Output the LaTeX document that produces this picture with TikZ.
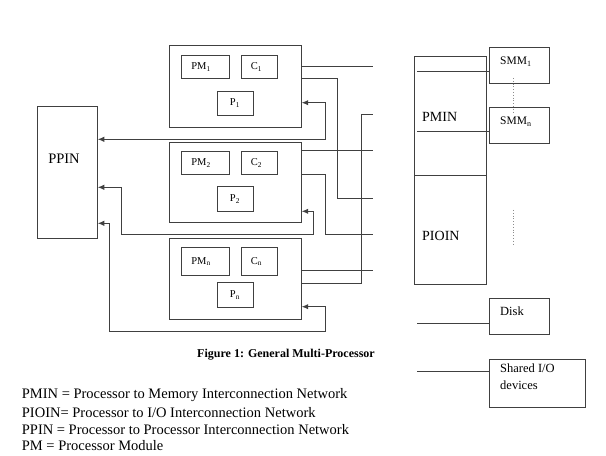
\documentclass[tikz,border=0pt]{standalone}
\usepackage{fontspec}
\setmainfont{Liberation Serif}
\usetikzlibrary{arrows.meta}
\begin{document}
\begin{tikzpicture}[x=1bp,y=-1bp,
  ln/.style={draw=black!75,line width=1bp},
  box/.style={ln,fill=none},
  arr/.style={ln,{Latex[length=6.5bp,width=5.5bp]}-{Latex[length=6.5bp,width=5.5bp]}},
  lbl/.style={inner sep=0pt,font=\fontsize{10.5bp}{12bp}\selectfont},
  big/.style={inner sep=0pt,font=\fontsize{14.5bp}{17bp}\selectfont},
  dots/.style={draw=black!45,line width=0.8bp,dotted}]
\useasboundingbox (0,0) rectangle (606,456);

% processor modules
\foreach \n/\t/\b/\pt/\pb/\qt/\qb/\s in {1/46/127.3/55/79/91/115.3/1, 2/142.7/222.7/151/175/186.7/211.3/2, n/238.3/319.3/247.3/275.7/282.7/307.7/n}{
  \path[box] (169,\t) rectangle (301.7,\b);
  \node[box,minimum width=48.3bp,minimum height={\pb-\pt},inner sep=0pt] (pm\n) at (205.2,{(\pt+\pb)/2}) {};
  \node[box,minimum width=36.3bp,minimum height={\pb-\pt},inner sep=0pt] (c\n) at (259.2,{(\pt+\pb)/2}) {};
  \node[box,minimum width=36.3bp,minimum height={\qb-\qt},inner sep=0pt] (p\n) at (235.2,{(\qt+\qb)/2}) {};
  \node[lbl] at (201,{(\pt+\pb)/2}) {PM\textsubscript{\s}};
  \node[lbl] at (256.5,{(\pt+\pb)/2}) {C\textsubscript{\s}};
  \node[lbl] at (235,{(\qt+\qb)/2}) {P\textsubscript{\s}};
}
\coordinate (m1) at (301.7,86);
\coordinate (m2) at (301.7,182);
\coordinate (mn) at (301.7,278);

% PPIN
\node[box,minimum width=60bp,minimum height=132.3bp,inner sep=0pt] (ppin) at (67.3,172.8) {};
\node[big] at (64,159) {PPIN};

% PMIN / PIOIN column
\node[box,minimum width=72.4bp,minimum height=119bp,inner sep=0pt] (pmin) at (450.5,116.2) {};
\node[box,minimum width=72.4bp,minimum height=108.6bp,inner sep=0pt] (pioin) at (450.5,230) {};
\node[inner sep=0pt,anchor=west,font=\fontsize{14bp}{17bp}\selectfont] at (422,116.7) {PMIN};
\node[inner sep=0pt,anchor=west,font=\fontsize{14bp}{17bp}\selectfont] at (422,235.7) {PIOIN};

% memories and devices
\node[box,minimum width=60.4bp,minimum height=35.7bp,inner sep=0pt] (smm1) at (519.5,65.85) {};
\node[box,minimum width=60.4bp,minimum height=35.7bp,inner sep=0pt] (smmn) at (519.5,125.85) {};
\node[box,minimum width=60bp,minimum height=36bp,inner sep=0pt] (disk) at (519.3,316.3) {};
\node[box,minimum width=96bp,minimum height=48bp,inner sep=0pt] (shio) at (537.3,383.3) {};
\node[inner sep=0pt,anchor=west,font=\fontsize{11.5bp}{14bp}\selectfont] at (500,62) {SMM\textsubscript{1}};
\node[inner sep=0pt,anchor=west,font=\fontsize{11.5bp}{14bp}\selectfont] at (500,121.7) {SMM\textsubscript{n}};
\node[inner sep=0pt,anchor=west,font=\fontsize{12.5bp}{15bp}\selectfont] at (500,311.7) {Disk};
\node[inner sep=0pt,anchor=north west,align=left,font=\fontsize{12.5bp}{17bp}\selectfont] at (500,364) {Shared I/O\\devices};

\draw[dots] (513.3,78) -- (513.3,113);
\draw[dots] (513.3,210) -- (513.3,246);

% lines inside the network column
\coordinate (s1) at (417.3,72);
\coordinate (s2) at (417.3,132);
\coordinate (s3) at (417.3,323.3);
\coordinate (s4) at (417.3,371.7);
\draw[ln] (s1) -- (s1 -| smm1.west);
\draw[ln] (s2) -- (s2 -| smmn.west);
\draw[ln] (s3) -- (s3 -| disk.west);
\draw[ln] (s4) -- (s4 -| shio.west);

% free ends towards the network
\coordinate (e1) at (373,66.7);
\coordinate (e2) at (373,115);
\coordinate (e3) at (373,151);
\coordinate (e4) at (373,199);
\coordinate (e5) at (373,235);
\coordinate (e6) at (373,270.7);

% module to network connectors
\draw[ln] (301.7,66.7) -- (e1);
\draw[ln] (301.7,79) -| (337.3,199) -- (e4);
\draw[ln] (301.7,151) -- (e3);
\draw[ln] (301.7,175) -| (325.7,235) -- (e5);
\draw[ln] (301.7,270.7) -- (e6);
\draw[ln] (301.7,283) -| (361.7,115) -- (e2);

% PPIN connectors
\draw[arr] (ppin.east |- 0,139.3) -| (325.7,102.7) -- (m1 |- 0,102.7);
\draw[arr] (ppin.east |- 0,187.3) -| (121,235) -| (313.3,211.3) -- (m2 |- 0,211.3);
\draw[arr] (ppin.east |- 0,223.3) -| (109,331) -| (325.7,306.7) -- (mn |- 0,306.7);

% caption and legend
\node[inner sep=0pt,font=\bfseries\fontsize{12bp}{14bp}\selectfont] (cap) at (286,355) {Figure 1: General Multi-Processor};
\node[big,anchor=west] (l1) at (21.7,395) {PMIN = Processor to Memory Interconnection Network};
\node[big,anchor=west] (l2) at (21.7,412.3) {PIOIN= Processor to I/O Interconnection Network};
\node[big,anchor=west] (l3) at (21.7,429.3) {PPIN = Processor to Processor Interconnection Network};
\node[big,anchor=west] (l4) at (21.7,445.7) {PM = Processor Module};
\end{tikzpicture}
\end{document}
